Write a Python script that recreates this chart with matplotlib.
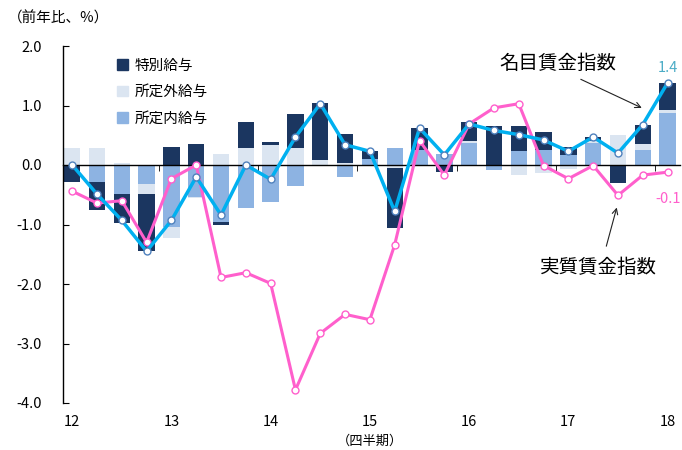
import numpy as np
import matplotlib
matplotlib.use("Agg")
import matplotlib.pyplot as plt
from matplotlib.patches import Patch

plt.rcParams['font.family'] = ['Noto Sans CJK JP', 'DejaVu Sans']

# 2012Q1 - 2018Q1（四半期）
anios = ['12', '13', '14', '15', '16', '17', '18']

# 寄与度（前年比、%）
shoteinai = [0.0, -0.28, -0.48, -0.32, -1.05, -0.53, -0.96, -0.73, -0.63, -0.36,
             0.0, -0.20, 0.10, 0.29, 0.25, 0.19, 0.37, -0.08, 0.23, 0.26,
             0.17, 0.37, 0.0, 0.25, 0.87]
shoteigai = [0.28, 0.29, 0.04, -0.17, -0.18, -0.03, 0.18, 0.29, 0.34, 0.28,
             0.08, 0.03, 0.0, -0.05, 0.0, 0.0, 0.03, 0.0, -0.16, -0.13,
             -0.07, 0.03, 0.51, 0.10, 0.06]
tokubetsu = [-0.28, -0.48, -0.50, -0.96, 0.31, 0.36, -0.05, 0.43, 0.04, 0.57,
             0.96, 0.49, 0.13, -1.01, 0.37, -0.11, 0.32, 0.65, 0.42, 0.29,
             0.14, 0.07, -0.30, 0.33, 0.45]

meimoku = [0.0, -0.49, -0.93, -1.45, -0.93, -0.20, -0.84, 0.0, -0.24, 0.47,
           1.03, 0.34, 0.23, -0.78, 0.62, 0.17, 0.69, 0.58, 0.51, 0.42,
           0.23, 0.47, 0.20, 0.68, 1.38]
jisshitsu = [-0.44, -0.64, -0.60, -1.30, -0.23, 0.0, -1.89, -1.81, -1.99, -3.78,
             -2.83, -2.51, -2.60, -1.34, 0.41, -0.17, 0.69, 0.96, 1.03, -0.01,
             -0.23, -0.01, -0.51, -0.17, -0.12]

COLOR_TOKU = '#1b3660'
COLOR_GAI = '#dbe5f1'
COLOR_NAI = '#8db3e2'
COLOR_MEI = '#00b0f0'
COLOR_JIS = '#ff5fcc'

x = np.arange(len(meimoku))

fig = plt.figure(figsize=(6.82, 4.5), dpi=100)
ax = fig.add_axes([63 / 682, 47 / 450, 617 / 682, 357 / 450])

# barras apiladas: positivos y negativos por separado
pos = np.zeros(len(x))
neg = np.zeros(len(x))
for serie, color in [(shoteinai, COLOR_NAI), (shoteigai, COLOR_GAI), (tokubetsu, COLOR_TOKU)]:
    v = np.array(serie)
    base = np.where(v >= 0, pos, neg)
    ax.bar(x, v, bottom=base, width=0.66, color=color, zorder=2)
    pos = pos + np.where(v >= 0, v, 0)
    neg = neg + np.where(v < 0, v, 0)

ax.plot(x, jisshitsu, color=COLOR_JIS, lw=2.2, marker='o', ms=5,
        mfc='white', mec=COLOR_JIS, mew=1.0, zorder=4)
ax.plot(x, meimoku, color=COLOR_MEI, lw=2.5, marker='o', ms=5,
        mfc='white', mec='#4f81bd', mew=1.0, zorder=5)

ax.set_xlim(-0.37, 24.5)
ax.set_ylim(-4, 2)

# eje
ax.spines['top'].set_visible(False)
ax.spines['right'].set_visible(False)
ax.spines['bottom'].set_position(('data', 0))
ax.spines['bottom'].set_zorder(3)
ax.spines['left'].set_linewidth(1.0)
ax.spines['bottom'].set_linewidth(1.0)

ax.set_yticks([2, 1, 0, -1, -2, -3, -4])
ax.set_yticklabels([f'{v:.1f}' for v in [2, 1, 0, -1, -2, -3, -4]])
ax.tick_params(axis='y', direction='in', length=4, pad=15, labelsize=10.5)

ax.set_xticks([])
ax.set_xticks(np.arange(3.5, 24, 4), minor=True)
ax.tick_params(axis='x', which='minor', direction='out', length=4)

sec = ax.secondary_xaxis(location=0)
sec.set_xticks(np.arange(0, 25, 4))
sec.set_xticklabels(anios)
sec.tick_params(length=0, pad=9, labelsize=10.5)
sec.spines['bottom'].set_visible(False)

# leyenda
handles = [Patch(color=COLOR_TOKU), Patch(color=COLOR_GAI), Patch(color=COLOR_NAI)]
ax.legend(handles, ['特別給与', '所定外給与', '所定内給与'], loc='upper left',
          bbox_to_anchor=(0.075, 0.985), frameon=False, fontsize=10.5,
          handlelength=0.75, handleheight=0.75, handletextpad=0.5,
          labelspacing=0.85, borderpad=0)

# anotaciones
ax.text(19.56, 1.71, '名目賃金指数', fontsize=14, ha='center', va='center')
ax.annotate('', xy=(23.06, 0.94), xytext=(20.4, 1.46),
            arrowprops=dict(arrowstyle='->', color='#222222', lw=0.8))
ax.text(21.2, -1.73, '実質賃金指数', fontsize=14, ha='center', va='center')
ax.annotate('', xy=(21.98, -0.67), xytext=(21.5, -1.41),
            arrowprops=dict(arrowstyle='->', color='#222222', lw=0.8))
ax.text(24.03, 1.63, f'{meimoku[-1]:.1f}', color='#4bacc6', fontsize=10.5,
        ha='center', va='center')
ax.text(24.03, -0.57, f'{jisshitsu[-1]:.1f}', color=COLOR_JIS, fontsize=10.5,
        ha='center', va='center')

fig.text(0.012, 1 - 18 / 450, '（前年比、%）', fontsize=10.5, ha='left', va='center')
fig.text(370 / 682, 1 - 441 / 450, '（四半期）', fontsize=9.5, ha='center', va='center')

fig.savefig('out.png', dpi=100)
